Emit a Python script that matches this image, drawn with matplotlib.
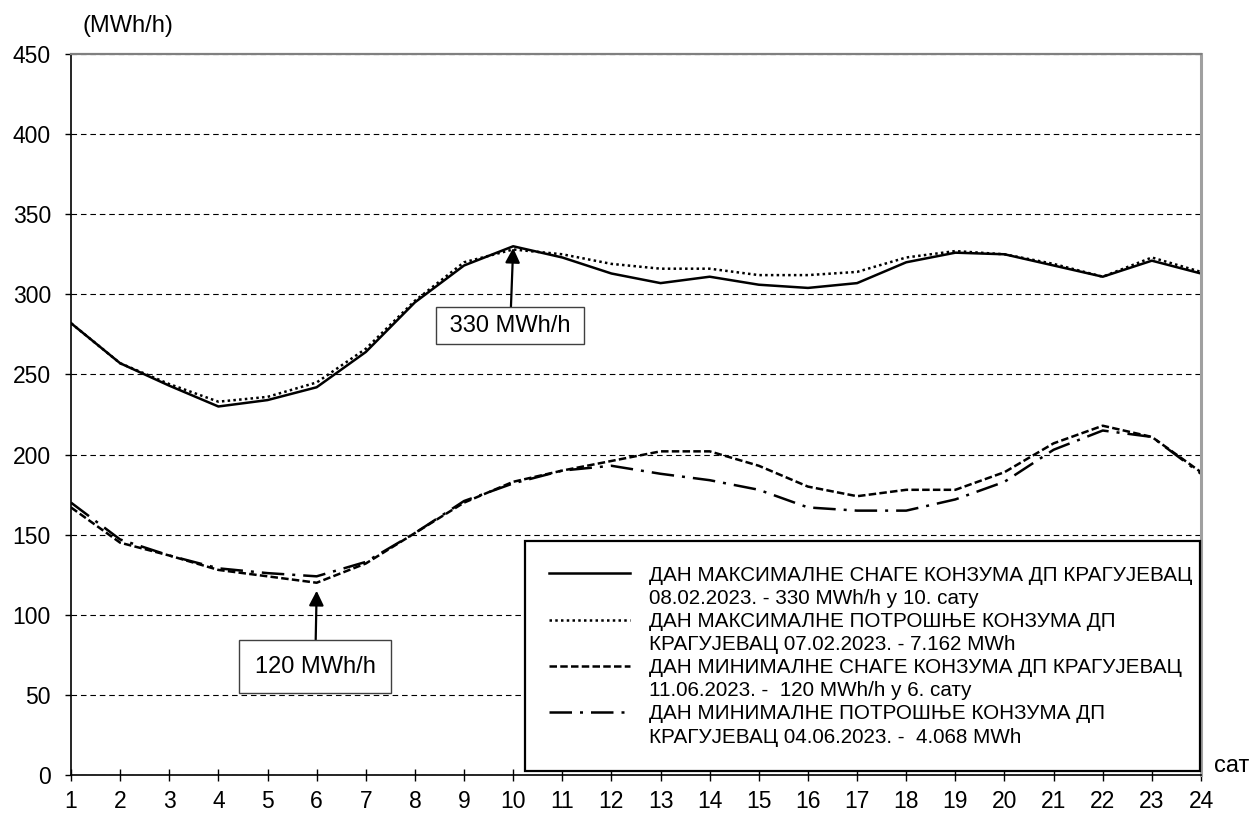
import numpy as np
import matplotlib
matplotlib.use("Agg")
import matplotlib.pyplot as plt
from matplotlib.lines import Line2D

plt.rcParams['font.family'] = ['Liberation Sans', 'DejaVu Sans']

# hours of the day
hours = np.arange(1, 25)

# max power day 08.02.2023
max_power = [282, 257, 243, 230, 234, 242, 264, 295, 318, 330, 323, 313,
             307, 311, 306, 304, 307, 320, 326, 325, 318, 311, 321, 313]
# max consumption day 07.02.2023
max_cons = [282, 257, 244, 233, 236, 245, 266, 296, 320, 328, 325, 319,
            316, 316, 312, 312, 314, 323, 327, 325, 319, 311, 323, 314]
# min power day 11.06.2023
min_power = [167, 145, 137, 128, 124, 120, 132, 151, 170, 183, 190, 196,
             202, 202, 193, 180, 174, 178, 178, 189, 207, 218, 211, 189]
# min consumption day 04.06.2023
min_cons = [170, 147, 137, 129, 126, 124, 133, 151, 171, 182, 190, 193,
            188, 184, 178, 167, 165, 165, 172, 183, 203, 215, 211, 188]

legend_labels = [
    "ДАН МАКСИМАЛНЕ СНАГЕ КОНЗУМА ДП КРАГУЈЕВАЦ",
    "08.02.2023. - 330 MWh/h у 10. сату",
    "ДАН МАКСИМАЛНЕ ПОТРОШЊЕ КОНЗУМА ДП",
    "КРАГУЈЕВАЦ 07.02.2023. - 7.162 MWh",
    "ДАН МИНИМАЛНЕ СНАГЕ КОНЗУМА ДП КРАГУЈЕВАЦ",
    "11.06.2023. -  120 MWh/h у 6. сату",
    "ДАН МИНИМАЛНЕ ПОТРОШЊЕ КОНЗУМА ДП",
    "КРАГУЈЕВАЦ 04.06.2023. -  4.068 MWh",
]

fig = plt.figure(figsize=(12.55, 8.14), dpi=100)
ax = fig.add_axes([71 / 1255, 39 / 814, 1130 / 1255, 721 / 814])

lw = 1.8
l1, = ax.plot(hours, max_power, color='black', lw=lw, ls='-')
l2, = ax.plot(hours, max_cons, color='black', lw=lw, ls=(0, (1, 1.3)))
l3, = ax.plot(hours, min_power, color='black', lw=lw, ls=(0, (3, 1.3)))
l4, = ax.plot(hours, min_cons, color='black', lw=lw, ls=(0, (9, 3.2, 1.2, 3.2)))

ax.set_xlim(1, 24)
ax.set_ylim(0, 450)
ax.set_xticks(hours)
ax.set_yticks(np.arange(0, 451, 50))
ax.yaxis.grid(True, color='black', lw=0.8, ls=(0, (5, 3.5)))
ax.set_axisbelow(True)

ax.tick_params(axis='y', direction='out', length=4.5, width=1, labelsize=16.5, pad=10)
ax.tick_params(axis='x', direction='inout', length=9, width=1, labelsize=16.5, pad=6)

for s in ['left', 'bottom']:
    ax.spines[s].set_color('black')
    ax.spines[s].set_linewidth(1.2)
ax.spines['top'].set_color('#808080')
ax.spines['top'].set_linewidth(1.6)
ax.spines['right'].set_color('#a0a0a0')
ax.spines['right'].set_linewidth(2.2)

fig.text(128 / 1255, 1 - 26 / 814, "(MWh/h)", fontsize=17, ha='center', va='center')
fig.text(1214 / 1255, 1 - 766 / 814, "сат", fontsize=17, ha='left', va='center')

# annotations
ax.annotate(" 330 MWh/h ", xy=(10, 329), xytext=(9.94, 280.5),
            fontsize=17, ha='center', va='center',
            bbox=dict(boxstyle='square,pad=0.3', fc='white', ec='#404040', lw=1),
            arrowprops=dict(arrowstyle='-|>', color='black', lw=1.6,
                            mutation_scale=22, shrinkA=0, shrinkB=0))
ax.annotate("120 MWh/h", xy=(6, 115), xytext=(5.97, 67.7),
            fontsize=17, ha='center', va='center',
            bbox=dict(boxstyle='square,pad=0.65', fc='white', ec='#404040', lw=1),
            arrowprops=dict(arrowstyle='-|>', color='black', lw=1.6,
                            mutation_scale=22, shrinkA=0, shrinkB=0))

blank = Line2D([], [], color='none')
handles = [l1, blank, l2, blank, l3, blank, l4, blank]
leg = ax.legend(handles, legend_labels, loc='lower left',
                bbox_to_anchor=(454 / 1130, 4 / 721, 675 / 1130, 0.3),
                mode='expand', borderaxespad=0, fontsize=14.9,
                handlelength=3.9, handletextpad=0.9, labelspacing=0.2,
                borderpad=1.18, fancybox=False, framealpha=1,
                edgecolor='black')
leg.get_frame().set_linewidth(1.6)

fig.savefig("out.png", dpi=100)
